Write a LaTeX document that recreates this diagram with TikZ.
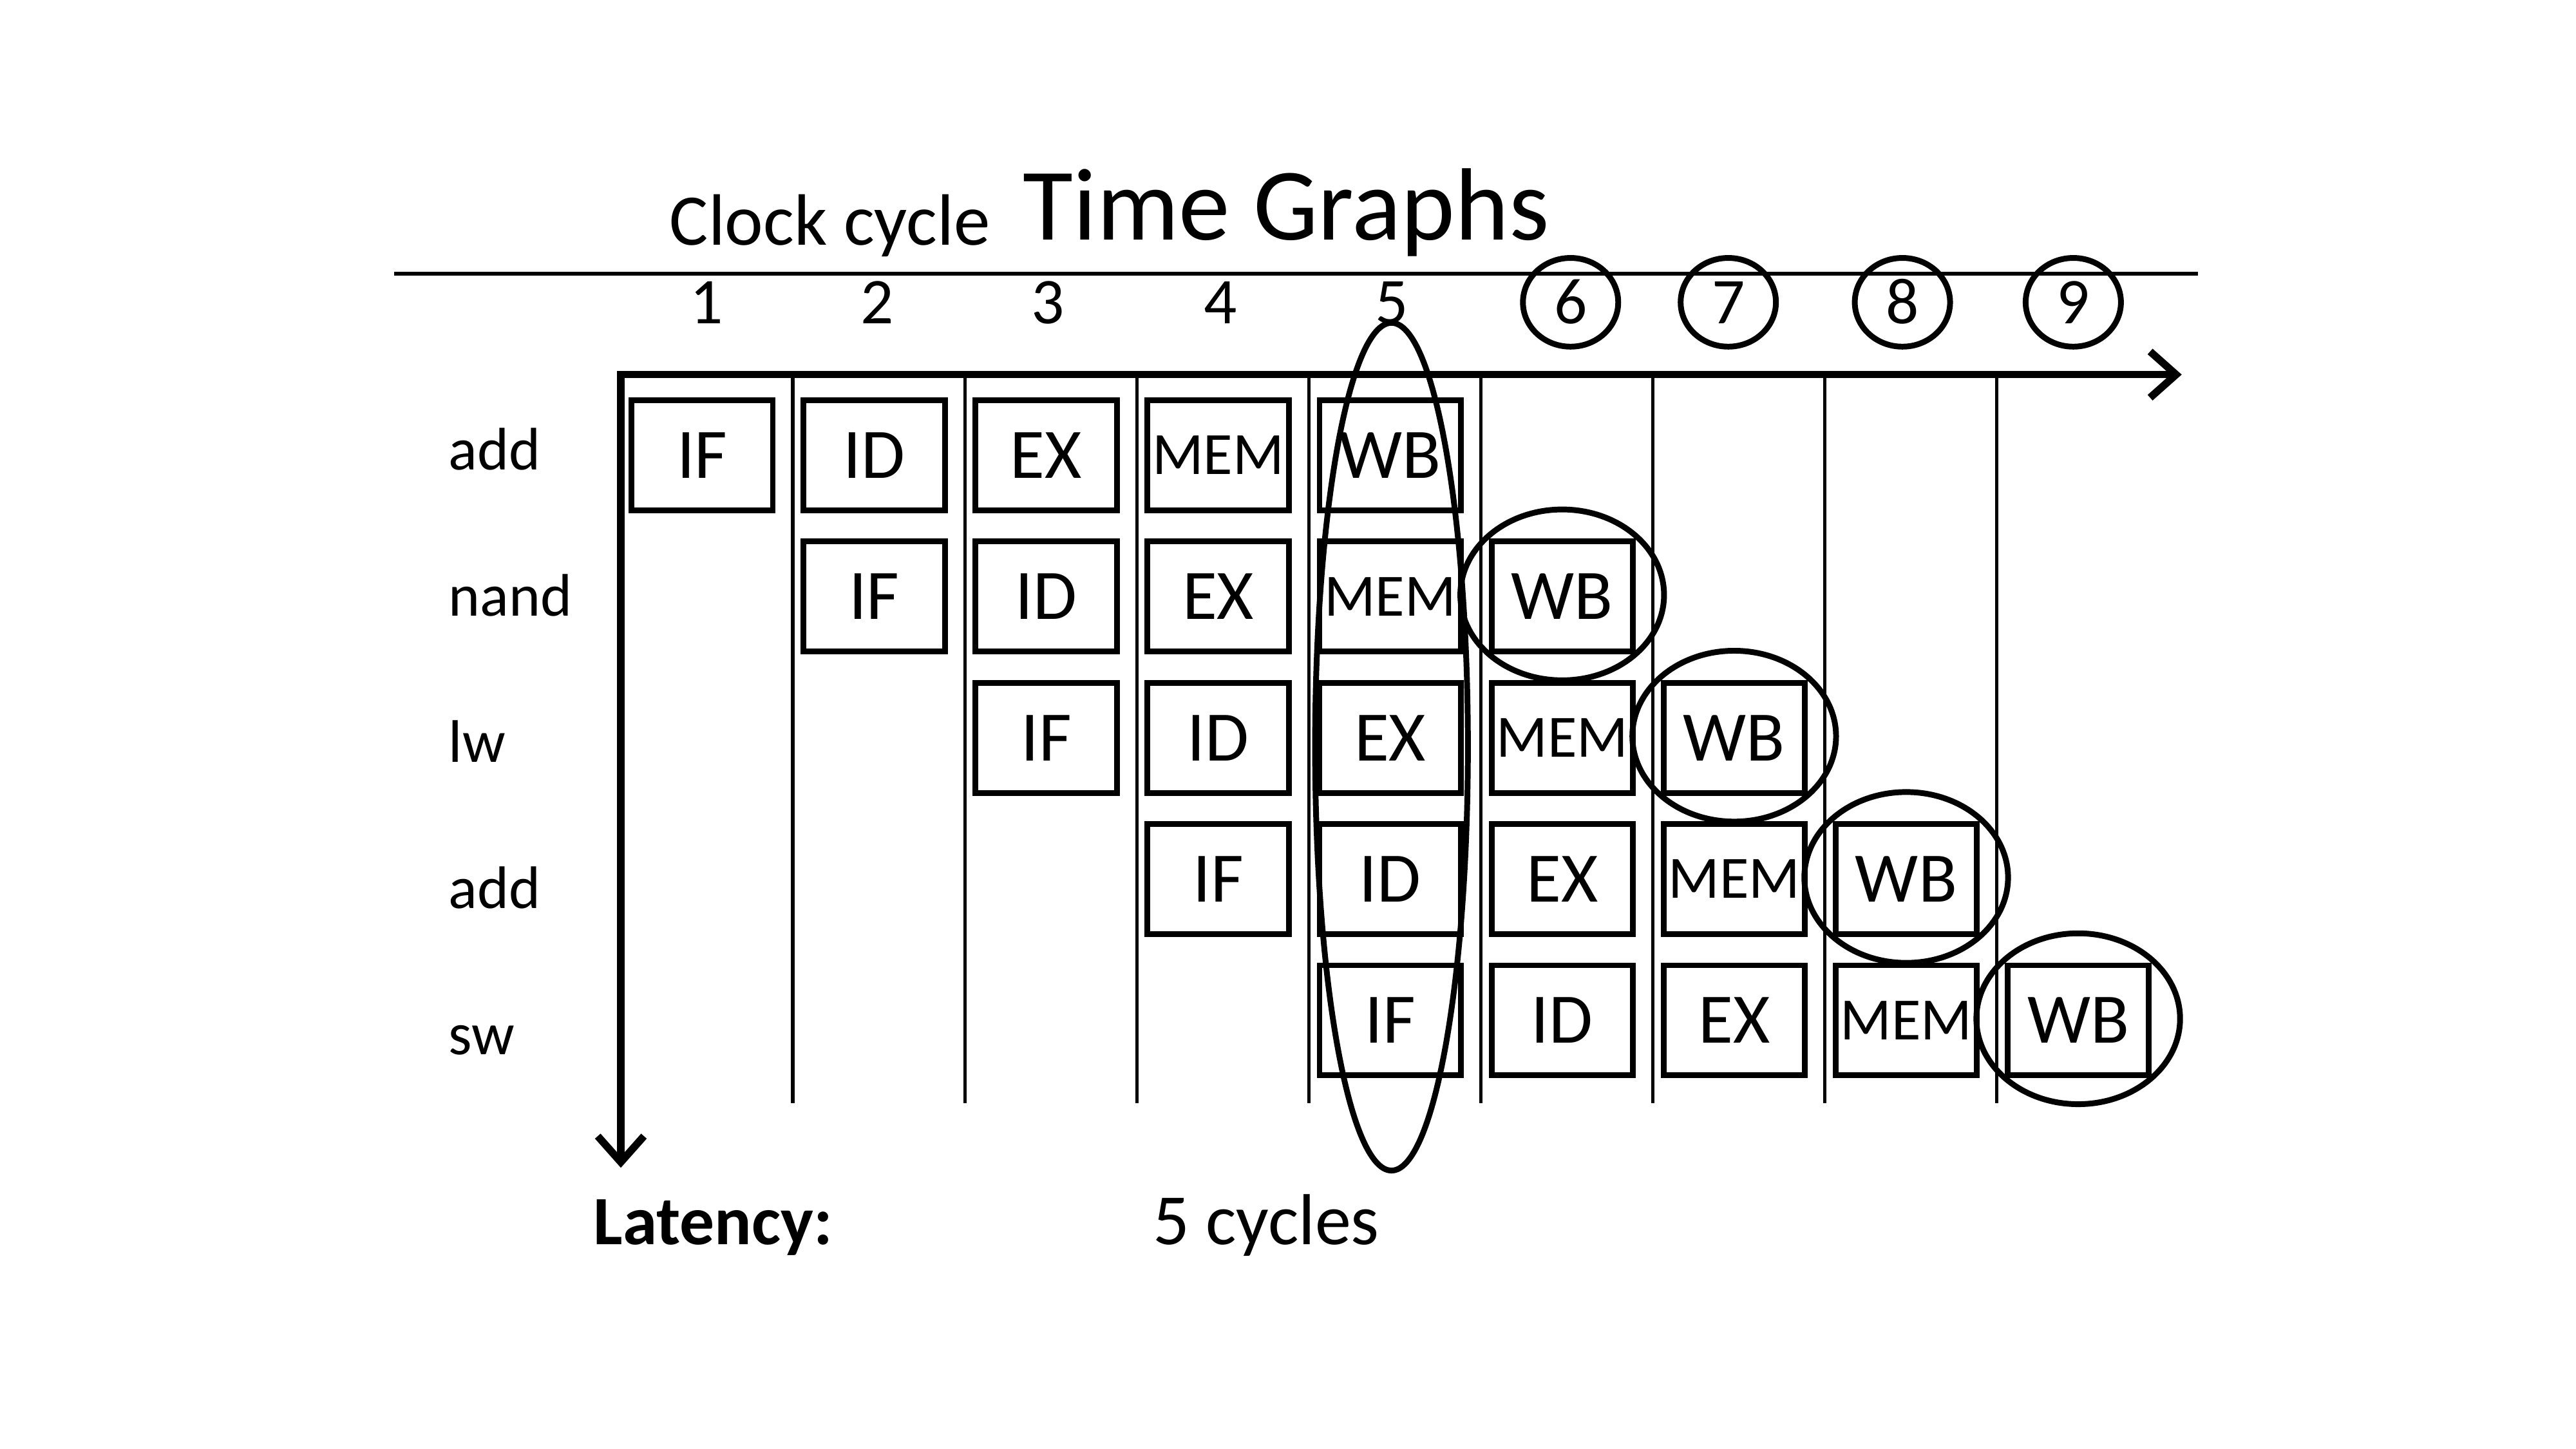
\documentclass[tikz,border=0pt]{standalone}
\usepackage{fontspec}
\setmainfont{Carlito}
\usetikzlibrary{arrows.meta}
\begin{document}
\begin{tikzpicture}[x=0.1mm,y=-0.1mm,
  stage/.style={draw, line width=1pt, minimum width=8.6mm, minimum height=6.7mm, inner sep=0pt, font=\fontsize{12.3}{14}\selectfont},
  memstage/.style={stage, font=\fontsize{10.4}{12}\selectfont},
  rowlabel/.style={anchor=base west, inner sep=0pt, font=\fontsize{10.4}{12}\selectfont},
  cyc/.style={anchor=base, inner sep=0pt, font=\fontsize{11.3}{13}\selectfont},
  ring/.style={draw, line width=1pt},
  gridln/.style={line width=0.6pt},
  axis/.style={line width=1.3pt, line join=miter, {Straight Barb[length=4.5pt,width=8pt]}-{Straight Barb[length=4.5pt,width=8pt]}},
]
\useasboundingbox (0,0) rectangle (1568,882);

% title texts
\node[anchor=base west, inner sep=0pt, font=\fontsize{12.6}{15}\selectfont] (clk) at (406.9,149) {Clock cycle};
\node[anchor=base west, inner sep=0pt, font=\fontsize{17.8}{21}\selectfont] (title) at (622.1,146.2) {Time Graphs};

% top rule
\coordinate (ruleL) at (240,166.6);
\coordinate (ruleR) at (1338,166.6);
\draw[line width=0.6pt] (ruleL) -- (ruleR);

% cycle numbers
\foreach \n/\xx in {1/430,2/534,3/638,4/743,5/847,6/956,7/1052,8/1158,9/1262}{
  \node[cyc] (num\n) at (\xx,196.8) {\n};
}
\foreach \n/\xx in {6/956,7/1052,8/1158,9/1262}{
  \draw[ring] (\xx,184) ellipse [x radius=2.9mm, y radius=2.7mm];
}

% grid lines
\foreach \k in {1,...,8}{
  \pgfmathsetmacro{\gx}{377.9+104.7*\k}
  \coordinate (gt\k) at (\gx,228);
  \coordinate (gb\k) at (\gx,671.5);
  \draw[gridln] (gt\k) -- (gb\k);
}

% axes
\coordinate (origin) at (377.9,228);
\coordinate (xend) at (1328,228);
\coordinate (yend) at (377.9,710.8);
\draw[axis] (xend) -- (origin) -- (yend);

% row labels
\foreach \r/\lab in {1/add,2/nand,3/lw,4/add,5/sw}{
  \pgfmathsetmacro{\ly}{285.8+89*(\r-1)}
  \node[rowlabel] (lab\r) at (272.4,\ly) {\lab};
}

% pipeline stages
\foreach \r in {1,...,5}{
  \foreach \s/\st/\sty in {1/IF/stage,2/ID/stage,3/EX/stage,4/MEM/memstage,5/WB/stage}{
    \pgfmathsetmacro{\bx}{377.9+104.7*(\r+\s-2)+49.5}
    \pgfmathsetmacro{\by}{277.1+86*(\r-1)}
    \node[\sty] (b\r-\s) at (\bx,\by) {\st};
  }
}

% big ellipse around cycle 5
\draw[ring] (847,454.5) ellipse [x radius=4.65mm, y radius=25.8mm];

% WB circles
\foreach \r in {2,...,5}{
  \pgfmathsetmacro{\cx}{377.9+104.7*(\r+3)+49.5}
  \pgfmathsetmacro{\cy}{277.1+86*(\r-1)-1}
  \draw[ring] (\cx,\cy) ellipse [x radius=6.2mm, y radius=5.2mm];
}

% latency
\node[anchor=base west, inner sep=0pt, font=\fontsize{12}{14}\selectfont\bfseries] (lat) at (360.6,757.7) {Latency:};
\node[anchor=base west, inner sep=0pt, font=\fontsize{12.5}{15}\selectfont] (latv) at (701,757.7) {5 cycles};
\end{tikzpicture}
\end{document}
